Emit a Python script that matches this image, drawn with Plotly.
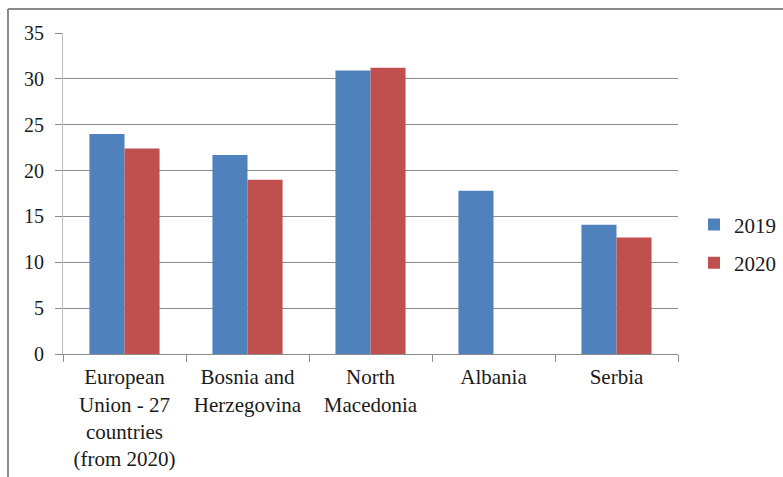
import plotly.graph_objects as go

categories = ["European<br>Union - 27<br>countries<br>(from 2020)", "Bosnia and<br>Herzegovina",
              "North<br>Macedonia", "Albania", "Serbia"]
values_2019 = [24.0, 21.7, 30.9, 17.8, 14.1]
values_2020 = [22.4, 19.0, 31.2, None, 12.7]
y_ticks = [0, 5, 10, 15, 20, 25, 30, 35]

FONT = "Liberation Serif"
W, H = 783, 477
L, R, T, B = 63, 105, 33, 123
pw, ph = W - L - R, H - T - B

fig = go.Figure()
fig.add_trace(go.Bar(x=categories, y=values_2019, name="2019", marker_color="#4F81BD",
                     marker_line_width=0, legendgroup="a"))
fig.add_trace(go.Bar(x=categories, y=values_2020, name="2020", marker_color="#C0504D",
                     marker_line_width=0, legendgroup="b"))

fx = (8 - L) / pw
fy = 1 + (T - 9) / ph
fig.add_shape(type="line", xref="paper", yref="paper", x0=fx, x1=1.3, y0=fy, y1=fy,
              line=dict(color="#8a8a8a", width=2))
fig.add_shape(type="line", xref="paper", yref="paper", x0=fx, x1=fx, y0=fy, y1=-0.5,
              line=dict(color="#8a8a8a", width=2))

fig.update_layout(
    width=W, height=H,
    margin=dict(l=L, r=R, t=T, b=B, autoexpand=False),
    paper_bgcolor="white", plot_bgcolor="white",
    font=dict(family=FONT, size=20, color="#1a1a1a"),
    barmode="group", bargap=0.43, bargroupgap=0,
    showlegend=True,
    legend=dict(x=(694 - L) / pw, y=0.343, xanchor="left", yanchor="middle",
                font=dict(family=FONT, size=21), traceorder="grouped",
                tracegroupgap=8, bgcolor="rgba(0,0,0,0)", itemwidth=30),
    xaxis=dict(showline=True, linecolor="#8c8c8c", linewidth=1, ticks="outside",
               ticklen=7, tickcolor="#8c8c8c", tickson="boundaries", showgrid=False,
               tickangle=0, ticklabelstandoff=4,
               tickfont=dict(family=FONT, size=21, color="#1a1a1a")),
    yaxis=dict(range=[0, 35], tickvals=y_ticks, showline=True, linecolor="#bdbdbd",
               linewidth=1, ticks="outside", ticklen=7, tickcolor="#8c8c8c",
               showgrid=True, gridcolor="#8c8c8c", gridwidth=1, zeroline=False,
               ticklabelstandoff=7,
               tickfont=dict(family=FONT, size=20, color="#1a1a1a")),
)

fig.write_html("out.html")
